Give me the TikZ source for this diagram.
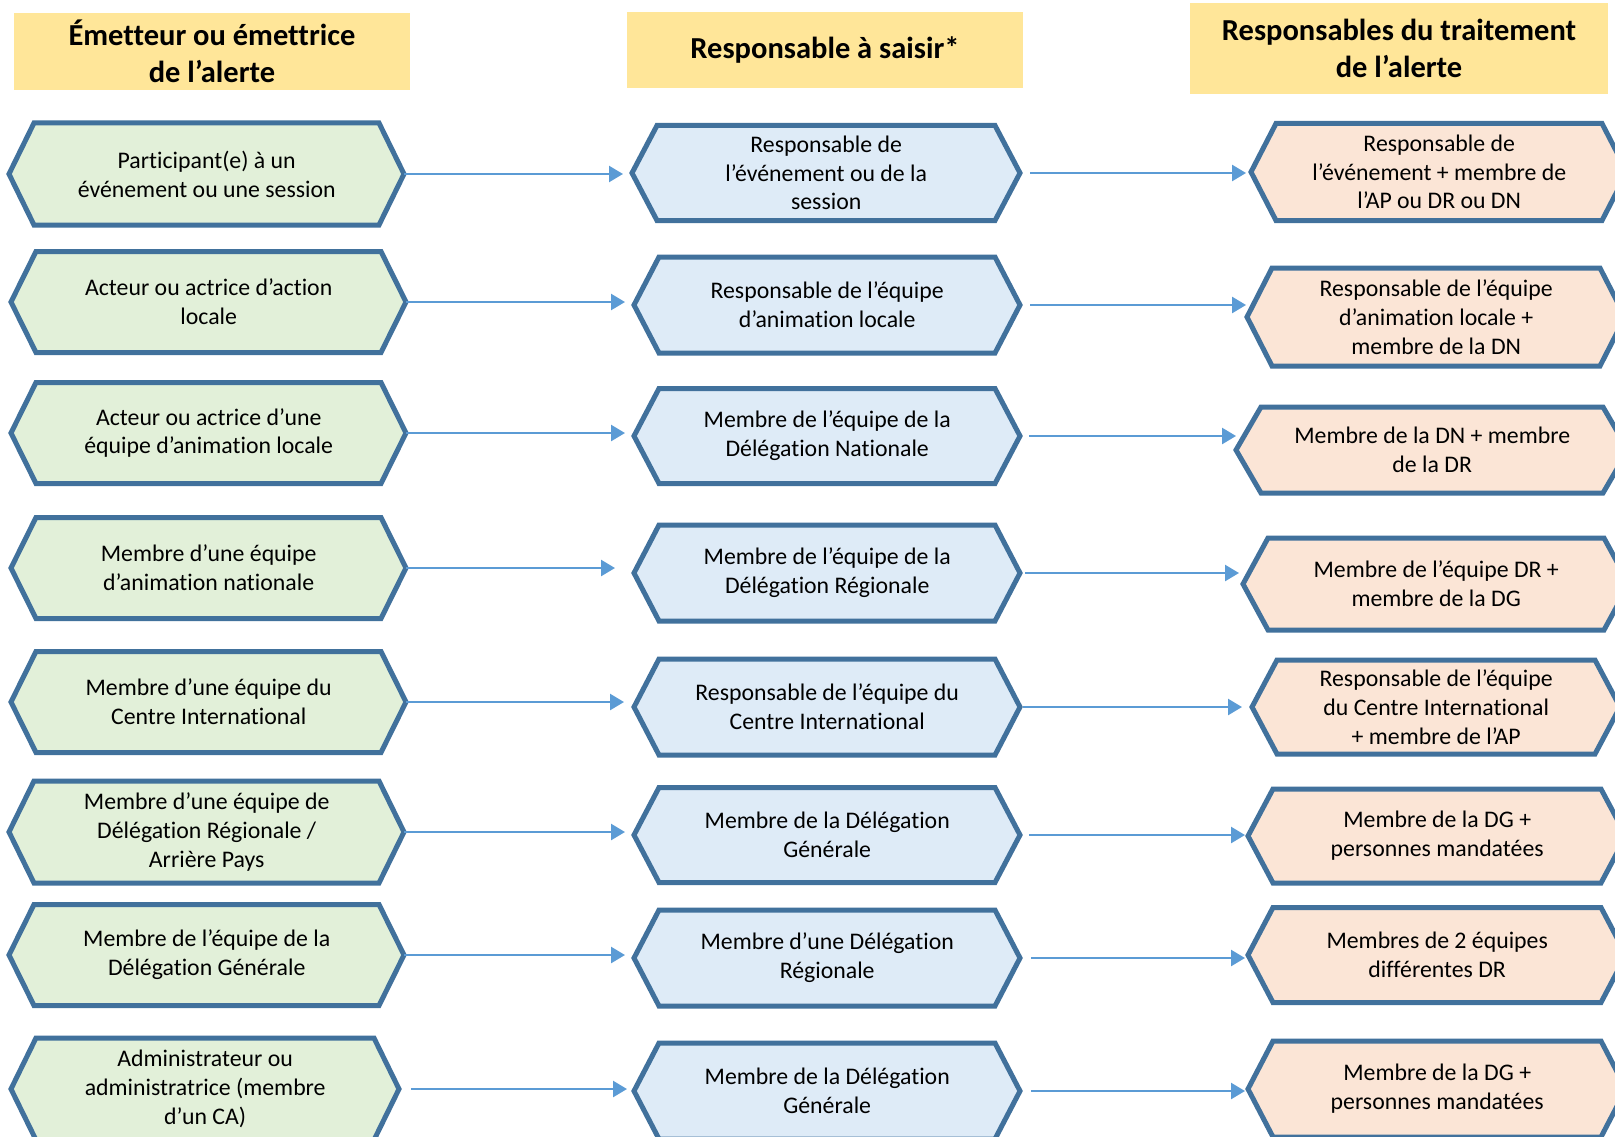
\documentclass[tikz,border=0pt]{standalone}
\usepackage{fontspec}
\setmainfont{Carlito}[Ligatures=NoCommon]
\usetikzlibrary{arrows.meta}
\definecolor{headfill}{HTML}{FFE699}
\definecolor{greenfill}{HTML}{E2F0D9}
\definecolor{bluefill}{HTML}{DEEBF7}
\definecolor{peachfill}{HTML}{FBE5D6}
\definecolor{hexborder}{HTML}{41719C}
\definecolor{arrowblue}{HTML}{5B9BD5}
\tikzset{
  hexline/.style={draw=hexborder, line width=5pt, line join=miter},
  hextext/.style={inner sep=0pt, align=center, font=\fontsize{23.8}{28.8}\selectfont, text=black},
  header/.style={fill=headfill, inner sep=0pt, align=center, font=\fontsize{30.5}{37}\selectfont\bfseries},
  arr/.style={draw=arrowblue, line width=2.5pt, -{Triangle[length=14pt,width=16pt]}},
}
% #1 name, #2 fill, #3 x of west tip, #4 y centre, #5 width, #6 height, #7 text
\newcommand\hexa[7]{%
  \draw[hexline, fill=#2] (#3,#4) -- (#3+25,#4-#6/2) -- (#3+#5-25,#4-#6/2) -- (#3+#5,#4)
     -- (#3+#5-25,#4+#6/2) -- (#3+25,#4+#6/2) -- cycle;
  \node[hextext, minimum width=#5pt, minimum height=#6pt, anchor=west] (#1) at (#3,#4) {#7};
}
\begin{document}
\begin{tikzpicture}[x=1pt,y=-1pt]
\useasboundingbox[fill=white] (0,0) rectangle (1615,1137);

% headers
\node[header, minimum width=396pt, minimum height=77pt] (H1) at (212,51.5) {Émetteur ou émettrice\\de l’alerte};
\node[header, minimum width=396pt, minimum height=76pt] (H2) at (825,50) {Responsable à saisir*};
\node[header, minimum width=418pt, minimum height=91pt] (H3) at (1399,48.5) {Responsables du traitement\\de l’alerte};

% left column
\hexa{L1}{greenfill}{9}{174}{395}{102}{Participant(e) à un\\événement ou une session}
\hexa{L2}{greenfill}{11}{302}{395}{101}{Acteur ou actrice d’action\\locale}
\hexa{L3}{greenfill}{11}{433}{395}{101}{Acteur ou actrice d’une\\équipe d’animation locale}
\hexa{L4}{greenfill}{11}{568}{395}{101}{Membre d’une équipe\\d’animation nationale}
\hexa{L5}{greenfill}{11}{702}{395}{101}{Membre d’une équipe du\\Centre International}
\hexa{L6}{greenfill}{9}{832}{395}{102}{Membre d’une équipe de\\Délégation Régionale /\\Arrière Pays}
\hexa{L7}{greenfill}{9}{955}{395}{101}{Membre de l’équipe de la\\Délégation Générale}
\hexa{L8}{greenfill}{11}{1089}{388}{102}{Administrateur ou\\administratrice (membre\\d’un CA)}

% middle column
\hexa{M1}{bluefill}{632}{173}{388}{95}{Responsable de\\l’événement ou de la\\session}
\hexa{M2}{bluefill}{634}{305}{386}{96}{Responsable de l’équipe\\d’animation locale}
\hexa{M3}{bluefill}{634}{436}{386}{95}{Membre de l’équipe de la\\Délégation Nationale}
\hexa{M4}{bluefill}{634}{573}{386}{96}{Membre de l’équipe de la\\Délégation Régionale}
\hexa{M5}{bluefill}{634}{707}{386}{96}{Responsable de l’équipe du\\Centre International}
\hexa{M6}{bluefill}{634}{835}{386}{95}{Membre de la Délégation\\Générale}
\hexa{M7}{bluefill}{634}{958}{386}{96}{Membre d’une Délégation\\Régionale}
\hexa{M8}{bluefill}{634}{1091}{386}{96}{Membre de la Délégation\\Générale}

% right column
\hexa{R1}{peachfill}{1251}{172}{376}{97}{Responsable de\\l’événement + membre de\\l’AP ou DR ou DN}
\hexa{R2}{peachfill}{1247}{317}{378}{98}{Responsable de l’équipe\\d’animation locale +\\membre de la DN}
\hexa{R3}{peachfill}{1236}{450}{392}{86}{Membre de la DN + membre\\de la DR}
\hexa{R4}{peachfill}{1243}{584}{386}{92}{Membre de l’équipe DR +\\membre de la DG}
\hexa{R5}{peachfill}{1252}{707}{368}{94}{Responsable de l’équipe\\du Centre International\\+ membre de l’AP}
\hexa{R6}{peachfill}{1248}{836}{378}{94}{Membre de la DG +\\personnes mandatées}
\hexa{R7}{peachfill}{1248}{955}{378}{95}{Membres de 2 équipes\\différentes DR}
\hexa{R8}{peachfill}{1248}{1089}{378}{96}{Membre de la DG +\\personnes mandatées}

% arrows left -> middle
\draw[arr, shorten >=9pt] (L1.east) -- (L1.east -| M1.west);
\draw[arr, shorten >=9pt] (L2.east) -- (L2.east -| M2.west);
\draw[arr, shorten >=9pt] (L3.east) -- (L3.east -| M3.west);
\draw[arr, shorten >=19pt] (L4.east) -- (L4.east -| M4.west);
\draw[arr, shorten >=10pt] (L5.east) -- (L5.east -| M5.west);
\draw[arr, shorten >=9pt] (L6.east) -- (L6.east -| M6.west);
\draw[arr, shorten >=9pt] (L7.east) -- (L7.east -| M7.west);
\draw[arr, shorten <=12pt, shorten >=7pt] (L8.east) -- (L8.east -| M8.west);

% arrows middle -> right
\draw[arr, shorten <=10pt, shorten >=5pt] (M1.east) -- (M1.east -| R1.west);
\draw[arr, shorten <=10pt, shorten >=1pt] (M2.east) -- (M2.east -| R2.west);
\draw[arr, shorten <=9pt, shorten >=0pt] (M3.east) -- (M3.east -| R3.west);
\draw[arr, shorten <=5pt, shorten >=4pt] (M4.east) -- (M4.east -| R4.west);
\draw[arr, shorten <=3pt, shorten >=10pt] (M5.east) -- (M5.east -| R5.west);
\draw[arr, shorten <=9pt, shorten >=3pt] (M6.east) -- (M6.east -| R6.west);
\draw[arr, shorten <=11pt, shorten >=3pt] (M7.east) -- (M7.east -| R7.west);
\draw[arr, shorten <=11pt, shorten >=3pt] (M8.east) -- (M8.east -| R8.west);
\end{tikzpicture}
\end{document}
